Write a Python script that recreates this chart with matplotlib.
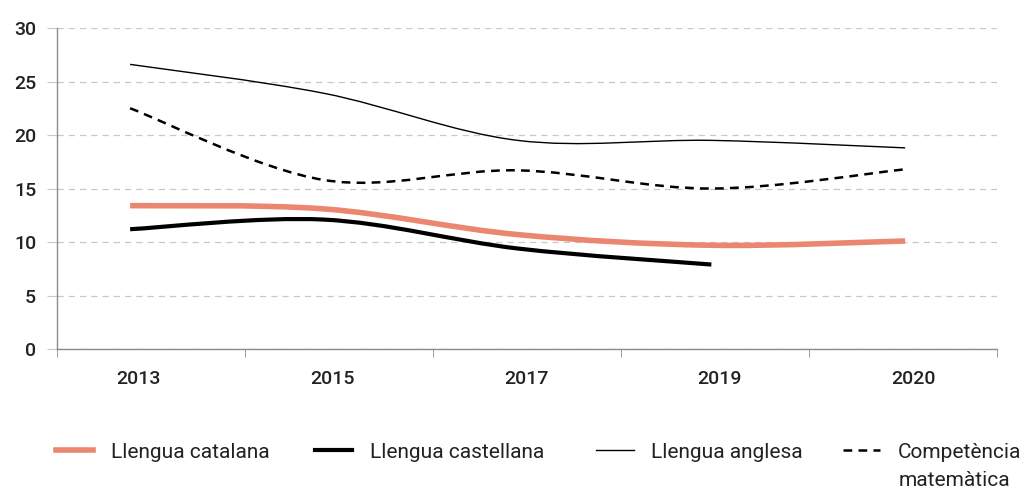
import matplotlib
matplotlib.use('Agg')
import matplotlib.pyplot as plt
import matplotlib.transforms as mtransforms
from matplotlib.path import Path
from matplotlib.patches import PathPatch
from matplotlib.lines import Line2D
import numpy as np

years = ['2013', '2015', '2017', '2019', '2020']
catalana = [13.4, 13.1, 10.7, 9.7, 10.1]
castellana = [11.2, 12.1, 9.4, 7.9]
anglesa = [26.6, 23.9, 19.5, 19.5, 18.8]
matematica = [22.5, 15.8, 16.7, 15.0, 16.8]
yticks = [0, 5, 10, 15, 20, 25, 30]

plt.rcParams['font.family'] = ['Roboto', 'DejaVu Sans']


def smooth_path(vals):
    # Catmull-Rom -> corbes Bezier cubiques (com el suavitzat d'Excel)
    x = np.arange(len(vals), dtype=float)
    y = np.asarray(vals, dtype=float)
    pts = np.column_stack([x, y])
    verts = [pts[0]]
    codes = [Path.MOVETO]
    n = len(pts)
    for i in range(n - 1):
        p0 = pts[max(i - 1, 0)]
        p1 = pts[i]
        p2 = pts[i + 1]
        p3 = pts[min(i + 2, n - 1)]
        c1 = p1 + (p2 - p0) / 6.0
        c2 = p2 - (p3 - p1) / 6.0
        verts += [c1, c2, p2]
        codes += [Path.CURVE4] * 3
    return Path(verts, codes)


fig = plt.figure(figsize=(10.28, 4.91), dpi=100)
ax = fig.add_axes([0.0555, 0.289, 0.9145, 0.654])

series = [
    (catalana, 'Llengua catalana', '#EB8670', 4.0, '-'),
    (castellana, 'Llengua castellana', '#000000', 3.0, '-'),
    (anglesa, 'Llengua anglesa', '#000000', 1.0, '-'),
    (matematica, 'Competència', '#000000', 1.8, (0, (3.5, 2.5))),
]

handles = []
for vals, label, color, lw, ls in series:
    patch = PathPatch(smooth_path(vals), fill=False, edgecolor=color,
                      linewidth=lw, linestyle=ls, capstyle='butt', zorder=3)
    ax.add_patch(patch)
    handles.append(Line2D([], [], color=color, linewidth=lw, linestyle=ls, label=label))

ax.set_xlim(-0.377, 4.475)
ax.set_ylim(0, 30)
ax.set_yticks(yticks)
ax.set_xticks(range(len(years)))
ax.set_xticklabels(years)
ax.set_xticks(np.linspace(-0.377, 4.475, 6), minor=True)

ax.grid(axis='y', color='#c8c8c8', linestyle=(0, (5, 4)), linewidth=0.9)
ax.set_axisbelow(True)
for s in ['top', 'right']:
    ax.spines[s].set_visible(False)
for s in ['left', 'bottom']:
    ax.spines[s].set_color('#8c8c8c')
    ax.spines[s].set_linewidth(1.0)

ax.tick_params(axis='y', length=7, color='#c8c8c8', labelsize=14, pad=8, labelcolor='#222222')
ax.tick_params(axis='x', which='major', length=0, labelsize=14, pad=15, labelcolor='#222222')
ax.tick_params(axis='x', which='minor', length=6, color='#8c8c8c', direction='out')

# les etiquetes de l'eix x estan una mica desplaçades a la dreta
shift = mtransforms.ScaledTranslation(6 / 72, 0, fig.dpi_scale_trans)
for lab in ax.get_xticklabels() + ax.get_yticklabels():
    lab.set_fontweight('medium')
for lab in ax.get_xticklabels():
    lab.set_transform(lab.get_transform() + shift)

# llegenda: una entrada per columna, a la posicio de la referencia
leg_x = [0.054, 0.306, 0.580, 0.820]
legends = []
for h, lx in zip(handles, leg_x):
    leg = fig.legend(handles=[h], loc='center left', bbox_to_anchor=(lx, 0.0794),
                     frameon=False, fontsize=15, handlelength=1.8, handletextpad=0.85,
                     borderpad=0, borderaxespad=0)
    leg.get_texts()[0].set_color('#222222')
    legends.append(leg)

fig.canvas.draw()
bb = legends[-1].get_texts()[0].get_window_extent()
fig.text(bb.x0 / fig.bbox.width, 0.022, 'matemàtica', fontsize=15,
         color='#222222', ha='left', va='center')

plt.savefig('out.png', dpi=100)
plt.close()
